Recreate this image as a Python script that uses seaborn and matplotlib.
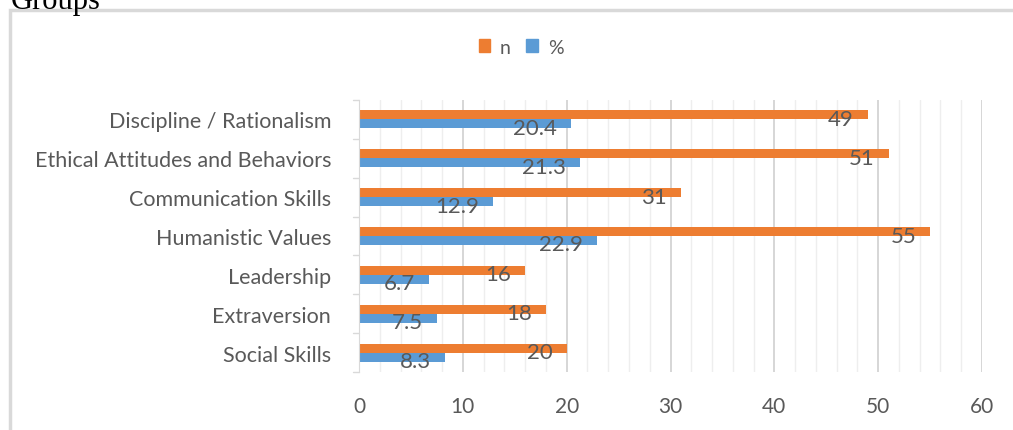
import matplotlib
matplotlib.use("Agg")
import matplotlib.pyplot as plt
import matplotlib.patches as mpatches
import seaborn as sns
import pandas as pd
from matplotlib.ticker import MultipleLocator

categories = ["Discipline / Rationalism", "Ethical Attitudes and Behaviors",
              "Communication Skills", "Humanistic Values", "Leadership",
              "Extraversion", "Social Skills"]
n_values = [49, 51, 31, 55, 16, 18, 20]
pct_values = [20.4, 21.3, 12.9, 22.9, 6.7, 7.5, 8.3]
series = ["n", "%"]
colors = ["#ED7D31", "#5B9BD5"]

df = pd.DataFrame({
    "group": categories * 2,
    "series": ["n"] * len(categories) + ["%"] * len(categories),
    "value": n_values + pct_values,
})

sns.set_style("white")
plt.rcParams["font.family"] = ["Lato", "DejaVu Sans"]
txt = "#595959"

fig = plt.figure(figsize=(10.13, 4.31), dpi=100)
ax = fig.add_axes([359 / 1013, 1 - 373 / 431, (982 - 359) / 1013, (373 - 101) / 431])

sns.barplot(data=df, y="group", x="value", hue="series", order=categories,
            hue_order=series, palette=colors, orient="h", width=0.46,
            saturation=1, dodge=True, legend=False, linewidth=0, ax=ax)

ax.set_xlim(0, 60)
ax.set_ylim(len(categories) - 0.5, -0.5)
ax.xaxis.set_major_locator(MultipleLocator(10))
ax.xaxis.set_minor_locator(MultipleLocator(2))
ax.grid(axis="x", which="major", color="#D0D0D0", lw=1.2)
ax.grid(axis="x", which="minor", color="#EEEEEE", lw=1)
ax.set_axisbelow(True)
for s in ["top", "right", "bottom"]:
    ax.spines[s].set_visible(False)
ax.spines["left"].set_color("#D9D9D9")
ax.set_xlabel("")
ax.set_ylabel("")
ax.tick_params(axis="x", which="both", length=0, labelsize=15, labelcolor=txt, pad=17)
ax.tick_params(axis="y", length=0, labelsize=15.5, labelcolor=txt, pad=20)

# category boundary ticks on the y axis
for b in range(len(categories) + 1):
    ax.plot([-0.6, 0], [b - 0.5, b - 0.5], color="#D9D9D9", lw=1, clip_on=False)

# data labels
for container, vals in zip(ax.containers, [n_values, pct_values]):
    for bar, v in zip(container, vals):
        y = bar.get_y() + bar.get_height() / 2
        ax.annotate(f"{v:g}", (bar.get_width(), y), xytext=(-14, -4),
                    textcoords="offset pixels", ha="right", va="center",
                    fontsize=16, color=txt)

handles = [mpatches.Patch(color=c, label=s) for s, c in zip(series, colors)]
fig.legend(handles=handles, loc="center", bbox_to_anchor=(521 / 1013, 1 - 48 / 431),
           ncol=2, frameon=False, fontsize=14, labelcolor=txt, handlelength=0.6,
           handleheight=0.6, handletextpad=0.5, columnspacing=0.8)

# outer chart border
fig.patches.append(mpatches.Rectangle((9.5 / 1013, -0.1), 1.2, 1 - 11 / 431 + 0.1,
                                      transform=fig.transFigure, fill=False,
                                      edgecolor="#D9D9D9", lw=2.5))
fig.text(11 / 1013, 1 - 8.5 / 431, "Groups", family="Liberation Serif",
         fontsize=22, va="baseline", ha="left", color="black")

fig.savefig("out.png", dpi=100)
